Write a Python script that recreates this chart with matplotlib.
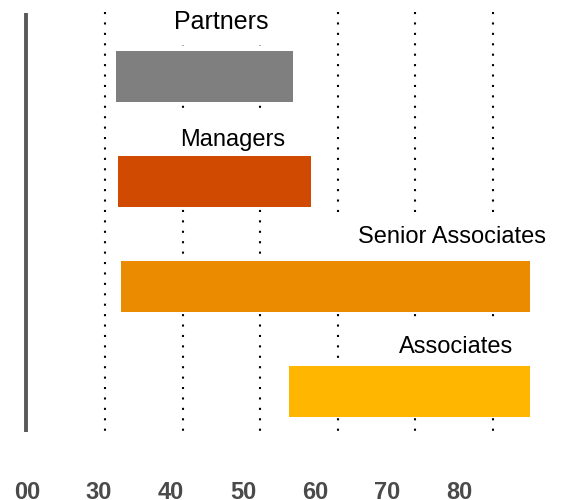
import matplotlib.pyplot as plt
from matplotlib.patches import Rectangle

plt.rcParams['font.family'] = ['Liberation Sans', 'DejaVu Sans']

# data
roles = ['Partners', 'Managers', 'Senior Associates', 'Associates']
starts = [31.4, 31.7, 32.1, 53.7]
ends = [54.2, 56.5, 84.8, 84.8]
colors = ['#7f7f7f', '#d04a02', '#eb8c00', '#ffb600']
grid_vals = [30, 40, 50, 60, 70, 80]
tick_vals = [20, 30, 40, 50, 60, 70, 80]
tick_labels = ['00', '30', '40', '50', '60', '70', '80']

# label placement (x centre, y offset from bar centre, size)
label_x = [44.95, 46.4, 74.7, 75.2]
label_dy = [-0.45, -0.33, -0.41, -0.36]
label_size = [18, 17, 17, 17]
# white text boxes behind the labels (they hide the gridlines)
box_x = [(34.5, 55.1), (34.5, 55.1), (57.7, 90.0), (61.6, 90.0)]
box_y = [(-0.75, -0.30), (0.36, 0.76), (1.33, 1.77), (2.34, 2.76)]

fig = plt.figure(figsize=(5.62, 5.0), dpi=100)
ax = fig.add_axes([0, 0, 1, 1])
ax.set_xlim(30 - 105 / 7.76, 30 + 457 / 7.76)
ax.set_ylim(-0.724 + 500 / 105, -0.724)
ax.axis('off')

# dotted gridlines behind everything
ax.vlines(grid_vals, -0.61, 3.40, colors='black', linewidth=1.5,
          linestyles=(0, (1, 4)), zorder=1)
# solid left line
ax.vlines([19.8], -0.60, 3.39, colors='#595959', linewidth=2.8, zorder=2)

for (x0, x1), (y0, y1) in zip(box_x, box_y):
    ax.add_patch(Rectangle((x0, y0), x1 - x0, y1 - y0, facecolor='white',
                           edgecolor='none', zorder=2))

for i, (r, s, e, c) in enumerate(zip(roles, starts, ends, colors)):
    ax.barh(i, e - s, left=s, height=0.486, color=c, zorder=3)
    ax.text(label_x[i], i + label_dy[i], r, ha='center', va='baseline',
            fontsize=label_size[i], color='black', zorder=4)

# bottom tick labels (their own scale)
ax2 = fig.add_axes([0, 0, 1, 1], facecolor='none')
ax2.set_xlim(20 - 27 / 7.21, 20 + (562 - 27) / 7.21)
ax2.set_yticks([])
for sp in ax2.spines.values():
    sp.set_visible(False)
ax2.set_xticks(tick_vals)
ax2.set_xticklabels(tick_labels, fontsize=17, fontweight='bold', color='#4a4a4a')
ax2.tick_params(axis='x', length=0, pad=-14)

fig.savefig('out.png', dpi=100)
